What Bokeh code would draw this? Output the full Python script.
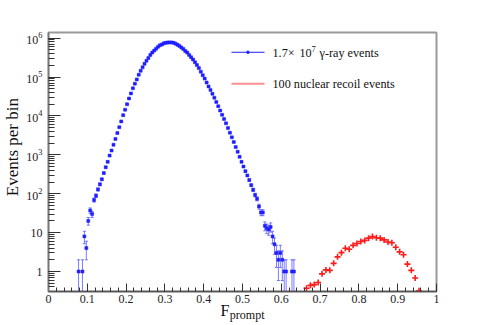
import numpy as np
from bokeh.plotting import figure
from bokeh.models import (Label, LogTicker, FixedTicker, Range1d, ColumnDataSource,
                          LogTickFormatter, LinearAxis)
from bokeh.embed import file_html
from bokeh.resources import INLINE

# ---- data ----
gamma_first_center = 0.0775
gamma_bin_width = 0.005
gamma_counts = [
    1, 0, 1, 8, 4, 20, 37, 30, 69, 89,
    129, 174, 234, 339, 479, 660, 955, 1290, 1820, 2570,
    3630, 5130, 7240, 10500, 14500, 20000, 28200, 38000, 51300, 67600,
    87100, 115000, 145000, 178000, 219000, 263000, 309000, 372000, 427000, 479000,
    537000, 603000, 661000, 692000, 741000, 759000, 776000, 780000, 776000, 759000,
    724000, 676000, 631000, 575000, 525000, 468000, 427000, 372000, 324000, 282000,
    240000, 204000, 170000, 138000, 112000, 91200, 72400, 57500, 46800, 37200,
    29500, 22900, 17800, 13800, 10700, 8320, 6460, 4900, 3720, 2820,
    2140, 1580, 1200, 890, 660, 500, 380, 295, 224, 166,
    126, 93, 74, 47, 33, 33, 15, 13, 12, 14,
    8, 5, 3, 2, 3, 2, 1, 1, 0, 0,
    1, 1,
]
nr_first_center = 0.665
nr_bin_width = 0.01
nr_values = [
    0.37, 0.44, 0.46, 0.52, 0.87, 1.10, 1.07, 1.62, 2.38, 3.05,
    3.95, 3.75, 4.70, 5.25, 5.90, 6.30, 7.20, 7.90, 7.40, 7.20,
    6.50, 5.75, 5.50, 4.20, 3.20, 2.70, 1.55, 1.07, 0.68, 0.32,
]
x_tick_values = [0, 0.1, 0.2, 0.3, 0.4, 0.5, 0.6, 0.7, 0.8, 0.9, 1.0]
x_tick_labels = ["0", "0.1", "0.2", "0.3", "0.4", "0.5", "0.6", "0.7", "0.8", "0.9", "1"]

SERIF = "Liberation Serif"
NBSP = "\u00a0"

# ---- derived ----
gc = np.array(gamma_counts, dtype=float)
gx = gamma_first_center + gamma_bin_width * np.arange(len(gc))
mask = gc > 0
gx, gc = gx[mask], gc[mask]
err = np.sqrt(gc)
lo = np.where(gc - err > 0, gc - err, 1e-3)
hi = gc + err
gsrc = ColumnDataSource(dict(x=gx, y=gc, lo=lo, hi=hi,
                             xl=gx - gamma_bin_width / 2, xr=gx + gamma_bin_width / 2,
                             cl=gx - 0.004, cr=gx + 0.004))

nv = np.array(nr_values)
nx = nr_first_center + nr_bin_width * np.arange(len(nv))
nsrc = ColumnDataSource(dict(x=nx, y=nv))

p = figure(width=485, height=325, x_range=Range1d(0, 1), y_range=Range1d(0.306, 1.40e6),
           y_axis_type="log", output_backend="svg", toolbar_location=None,
           min_border_left=48, min_border_right=49, min_border_top=32, min_border_bottom=34)
p.background_fill_color = "white"
p.border_fill_color = "white"
p.outline_line_color = "#9a9a9a"
p.outline_line_width = 2
p.xgrid.visible = False
p.ygrid.visible = False

# x axis
xa = p.xaxis[0]
xa.ticker = FixedTicker(ticks=x_tick_values,
                        minor_ticks=[round(0.02 * i, 2) for i in range(51)])
xa.major_label_overrides = {v: s for v, s in zip(x_tick_values, x_tick_labels)}
xa.major_tick_in = 8
xa.major_tick_out = 0
xa.minor_tick_in = 4
xa.minor_tick_out = 0
xa.axis_line_color = "#555555"
xa.axis_line_width = 1.5
xa.major_tick_line_color = "#333333"
xa.minor_tick_line_color = "#333333"
xa.major_label_text_font = SERIF
xa.major_label_text_font_size = "12px"
xa.major_label_text_color = "#222222"
xa.major_label_standoff = 3

# x axis title "F" + subscript "prompt", as tick labels of two bare axes below
def title_axis(pos, text, size, standoff):
    ax = LinearAxis(ticker=FixedTicker(ticks=[pos], minor_ticks=[]),
                    major_label_overrides={pos: text})
    ax.axis_line_color = None
    ax.major_tick_line_color = None
    ax.minor_tick_line_color = None
    ax.major_tick_in = 0
    ax.major_tick_out = 0
    ax.minor_tick_in = 0
    ax.minor_tick_out = 0
    ax.major_label_text_font = SERIF
    ax.major_label_text_font_size = size
    ax.major_label_text_color = "#111111"
    ax.major_label_standoff = standoff
    p.add_layout(ax, "below")

title_axis(0.455, "F", "16px", -4)
title_axis(0.512, "prompt", "12px", -14)

# y axis
ya = p.yaxis[0]
ya.ticker = LogTicker(num_minor_ticks=10)
ya.formatter = LogTickFormatter(min_exponent=2)
ya.major_tick_in = 12
ya.major_tick_out = 0
ya.minor_tick_in = 6
ya.minor_tick_out = 0
ya.axis_line_color = "#777777"
ya.axis_line_width = 1.5
ya.major_tick_line_color = "#333333"
ya.minor_tick_line_color = "#333333"
ya.major_label_text_font = SERIF
ya.major_label_text_font_size = "12px"
ya.major_label_text_color = "#222222"
ya.major_label_standoff = 6
ya.axis_label = NBSP * 7 + "Events per bin"
ya.axis_label_text_font = SERIF
ya.axis_label_text_font_size = "17px"
ya.axis_label_text_font_style = "normal"
ya.axis_label_text_color = "#111111"
ya.axis_label_standoff = 1

# gamma histogram
p.segment(x0="x", y0="lo", x1="x", y1="hi", source=gsrc, line_color="#4d4dff", line_alpha=0.75, line_width=1)
p.segment(x0="cl", y0="hi", x1="cr", y1="hi", source=gsrc, line_color="#4d4dff", line_alpha=0.75, line_width=1)
p.segment(x0="cl", y0="lo", x1="cr", y1="lo", source=gsrc, line_color="#4d4dff", line_alpha=0.75, line_width=1)
p.segment(x0="xl", y0="y", x1="xr", y1="y", source=gsrc, line_color="#4d4dff", line_alpha=0.5, line_width=1)
p.scatter("x", "y", source=gsrc, marker="square", size=3, fill_color="#1f1fff", line_color="#1f1fff", line_width=0.5)

# nuclear recoil
p.scatter("x", "y", source=nsrc, marker="cross", size=6, line_color="#ff1a1a", line_width=1.6)

# legend
p.segment(x0=[0.4716], y0=[4.34e5], x1=[0.5567], y1=[4.34e5], line_color="#2020ff", line_width=1)
p.scatter(x=[0.514], y=[4.34e5], marker="circle", size=2.5, fill_color="#2020ff", line_color="#2020ff")
p.segment(x0=[0.4716], y0=[6.69e4], x1=[0.5567], y1=[6.69e4], line_color="#ff9090", line_width=2)
p.add_layout(Label(x=0.5773, y=4.27e5, text="1.7\u00d7", text_align="left", text_baseline="middle",
                   text_font=SERIF, text_font_size="12.2px", text_color="#111111"))
p.add_layout(Label(x=0.6469, y=4.27e5, text="10", text_align="left", text_baseline="middle",
                   text_font=SERIF, text_font_size="12.2px", text_color="#111111"))
p.add_layout(Label(x=0.6778, y=5.2e5, text="7", text_align="left", text_baseline="middle",
                   text_font=SERIF, text_font_size="8.5px", text_color="#111111"))
p.add_layout(Label(x=0.6985, y=4.27e5, text="\u03b3-ray events", text_align="left", text_baseline="middle",
                   text_font=SERIF, text_font_size="12.2px", text_color="#111111"))
p.add_layout(Label(x=0.5773, y=6.81e4, text="100 nuclear recoil events", text_align="left", text_baseline="middle",
                   text_font=SERIF, text_font_size="12.2px", text_color="#111111"))

open("out.html", "w").write(file_html(p, INLINE))
